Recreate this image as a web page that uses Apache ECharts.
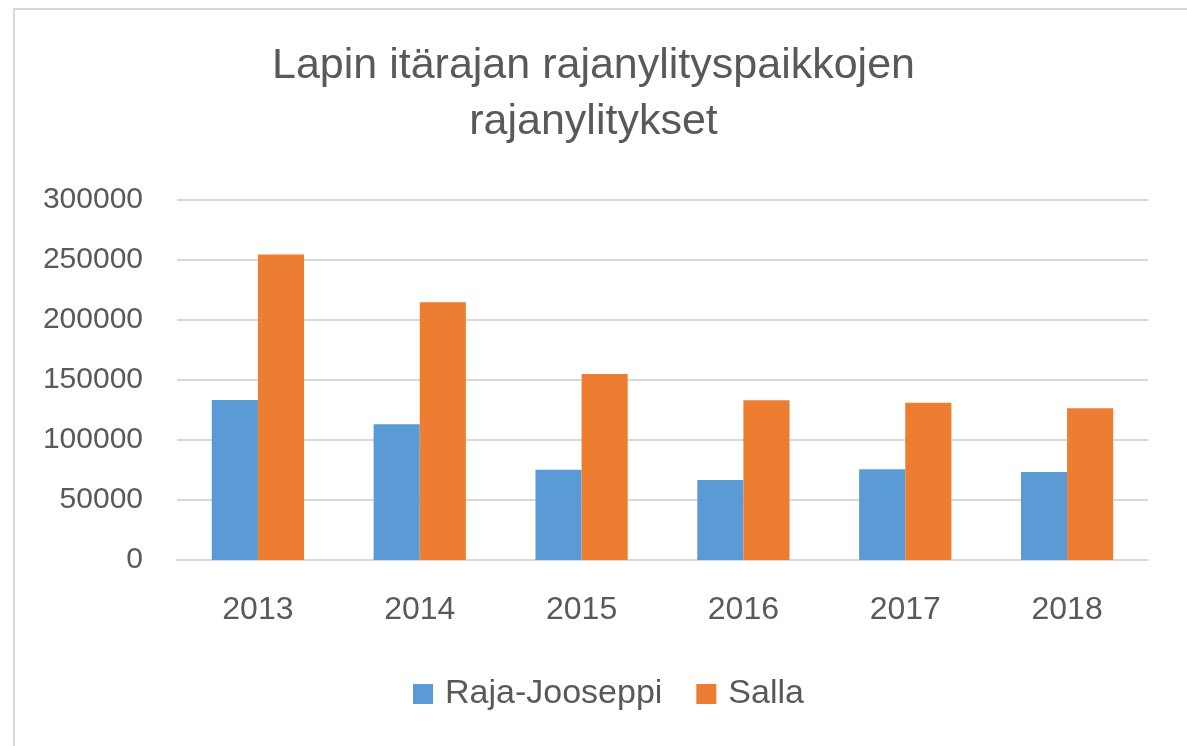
<!DOCTYPE html>
<html>
<head>
<meta charset="utf-8">
<script src="https://cdn.jsdelivr.net/npm/echarts@6/dist/echarts.min.js"></script>
<style>
html,body{margin:0;padding:0;background:#fff;overflow:hidden;}
#frame{position:absolute;left:13px;top:8px;width:1300px;height:900px;border:2px solid #d9d9d9;box-sizing:border-box;}
#c{position:absolute;left:0;top:0;width:1187px;height:746px;}
</style>
</head>
<body>
<div id="frame"></div>
<div id="c"></div>
<script>
const categories = ['2013','2014','2015','2016','2017','2018'];
const rajaJooseppi = [133300, 113100, 75300, 66700, 75600, 73300];
const salla = [254500, 214700, 155000, 133100, 131100, 126400];
const seriesNames = ['Raja-Jooseppi', 'Salla'];
const titleLines = ['Lapin itärajan rajanylityspaikkojen', 'rajanylitykset'];

const font = "'Liberation Sans', sans-serif";
const chart = echarts.init(document.getElementById('c'), null, {renderer:'canvas'});
chart.setOption({
  animation: false,
  backgroundColor: 'transparent',
  title: {
    text: titleLines.join('\n'),
    left: 'center',
    top: 33,
    textStyle: {fontFamily: font, fontSize: 43, fontWeight: 'normal', color: '#595959', lineHeight: 56}
  },
  legend: {
    top: 672,
    left: 408,
    itemWidth: 20,
    itemHeight: 20,
    itemGap: 34,
    icon: 'rect',
    textStyle: {fontFamily: font, fontSize: 34, color: '#595959', padding: [0, 0, 0, 7]},
    data: seriesNames
  },
  grid: {left: 177, right: 39, top: 200, bottom: 186, containLabel: false},
  xAxis: {
    type: 'category',
    data: categories,
    axisLine: {lineStyle: {color: '#d9d9d9', width: 2}},
    axisTick: {show: false},
    axisLabel: {fontFamily: font, fontSize: 32, color: '#595959', margin: 34}
  },
  yAxis: {
    type: 'value',
    min: 0, max: 300000, interval: 50000,
    axisLine: {show: false},
    axisTick: {show: false},
    splitLine: {lineStyle: {color: '#d9d9d9', width: 2}},
    axisLabel: {fontFamily: font, fontSize: 30, color: '#595959', margin: 34, formatter: v => String(v)}
  },
  series: [
    {name: seriesNames[0], type: 'bar', data: rajaJooseppi, itemStyle: {color: '#5b9bd5'}, barGap: '0%', barCategoryGap: '43%'},
    {name: seriesNames[1], type: 'bar', data: salla, itemStyle: {color: '#ed7d31'}, barGap: '0%', barCategoryGap: '43%'}
  ]
});
</script>
</body>
</html>
